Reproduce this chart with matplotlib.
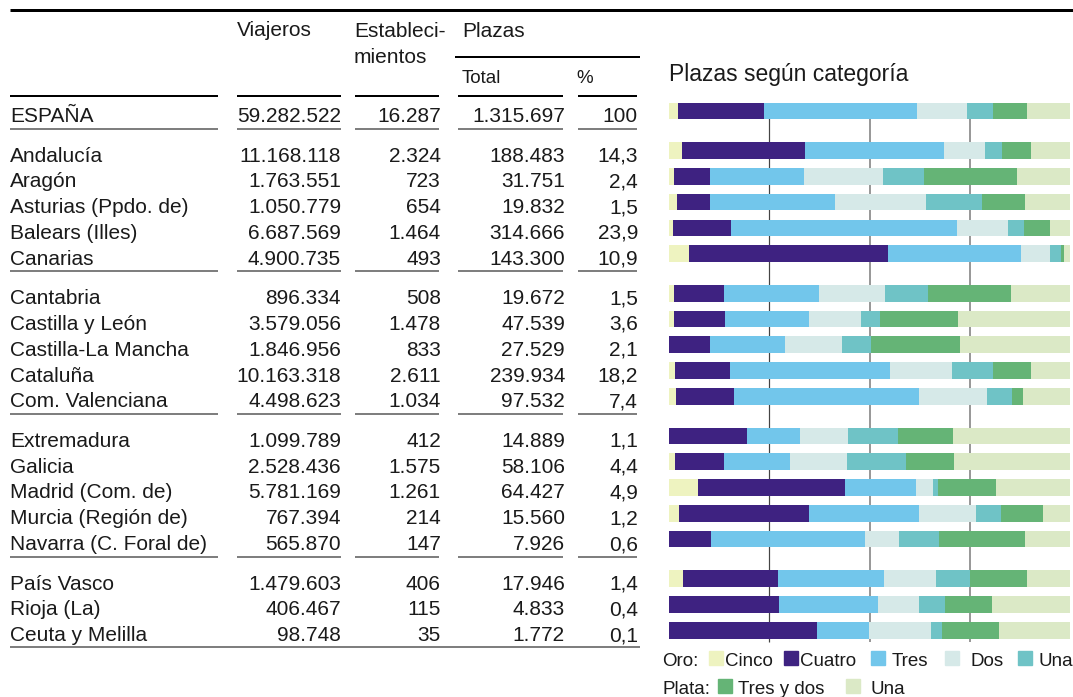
import matplotlib
matplotlib.use("Agg")
import matplotlib.pyplot as plt
from matplotlib.patches import Rectangle
import numpy as np

plt.rcParams['font.family'] = ['Liberation Sans', 'DejaVu Sans']

regiones = ["ESPAÑA", "Andalucía", "Aragón", "Asturias (Ppdo. de)", "Balears (Illes)",
            "Canarias", "Cantabria", "Castilla y León", "Castilla-La Mancha", "Cataluña",
            "Com. Valenciana", "Extremadura", "Galicia", "Madrid (Com. de)",
            "Murcia (Región de)", "Navarra (C. Foral de)", "País Vasco", "Rioja (La)",
            "Ceuta y Melilla"]
grupo = [0, 1, 1, 1, 1, 1, 2, 2, 2, 2, 2, 3, 3, 3, 3, 3, 4, 4, 4]
viajeros = [59282522, 11168118, 1763551, 1050779, 6687569, 4900735, 896334, 3579056,
            1846956, 10163318, 4498623, 1099789, 2528436, 5781169, 767394, 565870,
            1479603, 406467, 98748]
establecimientos = [16287, 2324, 723, 654, 1464, 493, 508, 1478, 833, 2611, 1034, 412,
                    1575, 1261, 214, 147, 406, 115, 35]
plazas = [1315697, 188483, 31751, 19832, 314666, 143300, 19672, 47539, 27529, 239934,
          97532, 14889, 58106, 64427, 15560, 7926, 17946, 4833, 1772]
pct = [100, 14.3, 2.4, 1.5, 23.9, 10.9, 1.5, 3.6, 2.1, 18.2, 7.4, 1.1, 4.4, 4.9, 1.2,
       0.6, 1.4, 0.4, 0.1]

# % de plazas por categoria
oro_cinco = [2.2, 3.2, 1.2, 2.0, 1.0, 5.0, 1.2, 1.2, 0, 1.5, 1.7, 0, 1.5, 7.2, 2.5, 0, 3.5, 0, 0]
oro_cuatro = [21.4, 30.7, 9.0, 8.2, 14.5, 49.6, 12.5, 12.7, 10.2, 13.7, 14.5, 19.5, 12.2,
              36.7, 32.4, 10.5, 23.7, 27.4, 36.9]
oro_tres = [38.2, 34.7, 23.4, 31.2, 56.4, 33.2, 23.7, 20.9, 18.7, 39.9, 46.1, 13.2, 16.5,
            17.7, 27.4, 38.4, 26.4, 24.7, 13.0]
oro_dos = [12.5, 10.2, 19.7, 22.7, 12.7, 7.2, 16.5, 13.0, 14.2, 15.5, 17.0, 12.0, 14.2,
           4.2, 14.2, 8.5, 13.0, 10.2, 15.5]
oro_una = [6.5, 4.2, 10.2, 14.0, 4.0, 2.7, 10.7, 4.7, 7.2, 10.2, 6.2, 12.5, 14.7, 1.2,
           6.2, 10.0, 8.5, 6.5, 2.7]
plata_tres_dos = [8.5, 7.2, 23.2, 10.7, 6.5, 0.7, 20.7, 19.5, 22.2, 9.5, 2.7, 13.7, 12.0,
                  14.5, 10.5, 21.4, 14.2, 11.7, 14.2]
plata_una = [10.7, 9.8, 13.3, 11.2, 4.9, 1.6, 14.7, 28.0, 27.5, 9.7, 11.8, 29.1, 28.9,
             18.5, 6.8, 11.2, 10.7, 19.5, 17.7]

series = [oro_cinco, oro_cuatro, oro_tres, oro_dos, oro_una, plata_tres_dos, plata_una]
colores = ["#eef3c0", "#3e2281", "#72c6eb", "#d6e9e8", "#6fc3c6", "#65b476", "#dbe9c6"]

W, H = 1073, 697
fig = plt.figure(figsize=(W / 100, H / 100), dpi=100)
ax = fig.add_axes([0, 0, 1, 1])
ax.set_xlim(0, W)
ax.set_ylim(H, 0)
ax.axis('off')

txt = "#1a1a1a"
fs = 15
PX = 0.72  # px -> pt

def miles(v):
    return f"{v:,}".replace(",", ".")

def porc(v):
    return "100" if v == 100 else f"{v:.1f}".replace(".", ",")

# posiciones de las filas
y0, paso, salto = 111, 25.8, 13.7
ys = np.array([y0 + i * paso + g * salto for i, g in enumerate(grupo)])

# cabecera
ax.plot([10, W], [10, 10], color="black", lw=3 * PX, solid_capstyle='butt')
ax.text(237, 36, "Viajeros", fontsize=fs, color=txt, va='baseline')
ax.text(354, 37, "Estableci-", fontsize=fs, color=txt, va='baseline')
ax.text(354, 63, "mientos", fontsize=fs, color=txt, va='baseline')
ax.text(462, 37, "Plazas", fontsize=fs, color=txt, va='baseline')
ax.plot([455, 640], [57, 57], color="black", lw=2 * PX, solid_capstyle='butt')
ax.text(462, 83, "Total", fontsize=fs - 1.5, color=txt, va='baseline')
ax.text(576, 83, "%", fontsize=fs - 1.5, color=txt, va='baseline')

segs = [(10, 218), (237, 341), (355, 439), (458, 563), (578, 637)]
for a, b in segs:
    ax.plot([a, b], [96, 96], color="black", lw=2 * PX, solid_capstyle='butt')

# filas
for i, nombre in enumerate(regiones):
    yb = ys[i] + 11
    ax.text(10, yb, nombre, fontsize=fs, color=txt, va='baseline')
    ax.text(341, yb, miles(viajeros[i]), fontsize=fs, color=txt, va='baseline', ha='right')
    ax.text(441, yb, miles(establecimientos[i]), fontsize=fs, color=txt, va='baseline', ha='right')
    ax.text(565, yb, miles(plazas[i]), fontsize=fs, color=txt, va='baseline', ha='right')
    ax.text(638, yb, porc(pct[i]), fontsize=fs, color=txt, va='baseline', ha='right')

# separadores entre grupos
for i in range(len(grupo) - 1):
    if grupo[i] != grupo[i + 1]:
        ysep = (ys[i] + ys[i + 1]) / 2 - 2
        for a, b in segs:
            ax.plot([a, b], [ysep, ysep], color="#555555", lw=1.5 * PX, solid_capstyle='butt')
yfin = ys[-1] + 17
ax.plot([10, 640], [yfin, yfin], color="#555555", lw=1.5 * PX, solid_capstyle='butt')

# grafico de barras
ax.text(669, 81, "Plazas según categoría", fontsize=16.5, color=txt, va='baseline')
top, bot = 100, 645
axb = fig.add_axes([669 / W, 1 - bot / H, 401 / W, (bot - top) / H])
axb.set_xlim(0, 100)
axb.set_ylim(bot, top)
axb.axis('off')
axb.vlines(25, ys[0], ys[-1] + 12, color="#444444", lw=1.2 * PX, zorder=0)
axb.vlines([50, 75], ys[0], ys[-1] + 12, color="#999999", lw=2 * PX, zorder=0)
izq = np.zeros(len(regiones))
for s, c in zip(series, colores):
    axb.barh(ys, s, left=izq, height=16.7, color=c, zorder=2)
    izq += np.array(s)

# leyenda
fl = 13.5
ax.text(662, 666, "Oro:", fontsize=fl, color=txt, va='baseline')
ax.text(662, 694, "Plata:", fontsize=fl, color=txt, va='baseline')
ley = [(709, 651, colores[0], 725, "Cinco"), (784, 651, colores[1], 800, "Cuatro"),
       (871, 651, colores[2], 892, "Tres"), (945, 651, colores[3], 970, "Dos"),
       (1018, 651, colores[4], 1038, "Una"),
       (718, 679, colores[5], 738, "Tres y dos"), (846, 679, colores[6], 870, "Una")]
for xr, yr, c, xt, lab in ley:
    ax.add_patch(Rectangle((xr, yr), 14, 14, color=c))
    ax.text(xt, yr + 15, lab, fontsize=fl, color=txt, va='baseline')

fig.savefig("out.png", dpi=100)
